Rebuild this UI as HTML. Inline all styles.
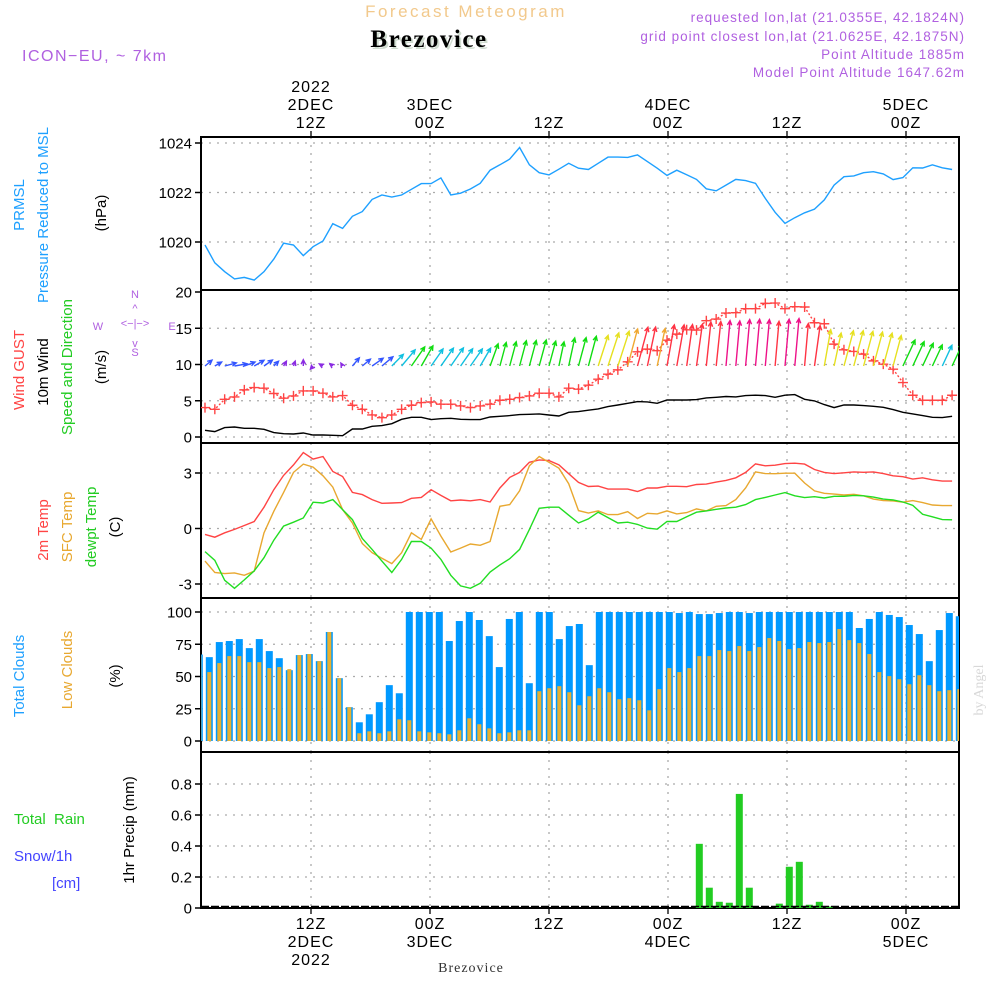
<!DOCTYPE html>
<html><head><meta charset="utf-8">
<style>
html,body{margin:0;padding:0;background:#fff;}
svg{display:block;font-family:"Liberation Sans",sans-serif;}
</style></head>
<body>
<svg id="chart" width="1000" height="1000" viewBox="0 0 1000 1000" xmlns="http://www.w3.org/2000/svg">
<defs><clipPath id="plotclip"><rect x="201" y="137" width="758" height="771"/></clipPath></defs>
<!-- headers -->
<text x="466" y="17" text-anchor="middle" font-size="17" fill="#f2c98c" letter-spacing="2.5">Forecast Meteogram</text>
<text x="431" y="49" text-anchor="middle" font-size="25" font-weight="bold" font-family="Liberation Serif, serif" fill="#d0dcd0" letter-spacing="1.5">Brezovice</text>
<text x="429" y="47" text-anchor="middle" font-size="25" font-weight="bold" font-family="Liberation Serif, serif" fill="#000" letter-spacing="1.5">Brezovice</text>
<text x="22" y="61" font-size="16" fill="#b060e0" letter-spacing="1.5">ICON−EU, ~ 7km</text>
<g font-size="13.5" fill="#b060e0" text-anchor="end" letter-spacing="1">
<text x="965" y="22">requested lon,lat (21.0355E, 42.1824N)</text>
<text x="965" y="41">grid point closest lon,lat (21.0625E, 42.1875N)</text>
<text x="965" y="59">Point Altitude 1885m</text>
<text x="965" y="77">Model Point Altitude 1647.62m</text>
</g>
<!-- left labels -->
<g font-size="15">
<text transform="translate(24,205) rotate(-90)" text-anchor="middle" fill="#1ea0ff">PRMSL</text>
<text transform="translate(48,215) rotate(-90)" text-anchor="middle" fill="#1ea0ff">Pressure Reduced to MSL</text>
<text transform="translate(106,213) rotate(-90)" text-anchor="middle" fill="#000">(hPa)</text>
<text transform="translate(24,370) rotate(-90)" text-anchor="middle" fill="#ff4444">Wind GUST</text>
<text transform="translate(48,372) rotate(-90)" text-anchor="middle" fill="#000">10m Wind</text>
<text transform="translate(72,367) rotate(-90)" text-anchor="middle" fill="#22cc22">Speed and Direction</text>
<text transform="translate(106,367) rotate(-90)" text-anchor="middle" fill="#000">(m/s)</text>
<text transform="translate(48,530) rotate(-90)" text-anchor="middle" fill="#ff4444">2m Temp</text>
<text transform="translate(72,527) rotate(-90)" text-anchor="middle" fill="#e8a830">SFC Temp</text>
<text transform="translate(96,527) rotate(-90)" text-anchor="middle" fill="#22cc22">dewpt Temp</text>
<text transform="translate(120,527) rotate(-90)" text-anchor="middle" fill="#000">(C)</text>
<text transform="translate(24,676) rotate(-90)" text-anchor="middle" fill="#1ea0ff">Total Clouds</text>
<text transform="translate(72,670) rotate(-90)" text-anchor="middle" fill="#e8a830">Low Clouds</text>
<text transform="translate(120,676) rotate(-90)" text-anchor="middle" fill="#000">(%)</text>
<text x="14" y="824" fill="#22cc22" xml:space="preserve">Total  Rain</text>
<text x="14" y="861" fill="#4444ff">Snow/1h</text>
<text x="52" y="888" fill="#4444ff">[cm]</text>
<text transform="translate(134,830) rotate(-90)" text-anchor="middle" fill="#000">1hr Precip (mm)</text>
</g>
<!-- compass -->
<g fill="#b060e0" font-size="11" text-anchor="middle">
<text x="135" y="298">N</text><text x="135" y="356">S</text><text x="98" y="330">W</text><text x="172" y="330">E</text>
<text x="135" y="327">&lt;−|−&gt;</text>
<text x="135" y="312">^</text><text x="135" y="347">v</text>
</g>
<text transform="translate(983,690) rotate(-90)" text-anchor="middle" font-size="14" font-family="Liberation Serif, serif" fill="#d8d8d8">by Angel</text>
<text x="471" y="972" text-anchor="middle" font-size="14" font-family="Liberation Serif, serif" fill="#333" letter-spacing="1">Brezovice</text>
<g id="layer"></g>
</svg>
<script>
const timeTicks = [311, 430, 549, 668, 787, 906];
const topTickLabels = [["2022","2DEC","12Z"],["3DEC","00Z"],["12Z"],["4DEC","00Z"],["12Z"],["5DEC","00Z"]];
const botTickLabels = [["12Z","2DEC","2022"],["00Z","3DEC"],["12Z"],["00Z","4DEC"],["12Z"],["00Z","5DEC"]];
const pressure = [1019.88,1019.16,1018.8,1018.51,1018.57,1018.46,1018.8,1019.31,1019.95,1019.88,1019.45,1019.81,1020.04,1020.74,1020.55,1021.04,1021.23,1021.72,1021.9,1021.82,1021.9,1022.13,1022.36,1022.36,1022.59,1021.9,1021.97,1022.14,1022.37,1022.9,1023.12,1023.35,1023.82,1023.12,1022.8,1022.71,1022.94,1023.18,1022.98,1022.93,1023.18,1023.43,1023.43,1023.42,1023.52,1023.25,1022.98,1022.69,1022.9,1022.72,1022.53,1022.15,1022.07,1022.3,1022.53,1022.48,1022.37,1021.76,1021.2,1020.75,1020.98,1021.18,1021.33,1021.7,1022.3,1022.64,1022.67,1022.8,1022.84,1022.75,1022.52,1022.6,1023.0,1022.99,1023.12,1023.0,1022.93];
const wind10 = [.92,.74,1.29,1.38,1.2,1.2,1.06,.6,.46,.41,.55,.28,.28,.23,.18,1.1,1.1,1.47,1.57,1.84,2.44,2.72,2.72,2.4,2.53,2.58,2.44,2.4,2.4,2.76,2.86,2.95,3.09,3.13,3.18,3.04,2.9,3.41,3.5,3.69,3.87,4.2,4.42,4.65,4.88,4.84,4.65,5.1,5.1,5.1,5.16,5.4,5.48,5.58,5.53,5.71,5.76,5.71,5.48,5.76,5.85,5.2,4.98,4.47,4.06,4.42,4.42,4.33,4.24,4.1,3.78,3.41,3.18,2.95,2.72,2.67,2.86];
const gust = [4.06,3.82,5.2,5.53,6.5,6.82,6.73,6.0,5.35,5.67,6.36,6.36,6.04,5.53,5.71,4.38,3.82,3.04,2.67,3.04,3.82,4.38,4.75,4.84,4.52,4.52,4.29,4.06,4.29,4.52,5.07,5.2,5.44,5.67,6.04,6.04,5.53,6.73,6.6,7.14,7.97,8.66,9.26,10.37,11.75,12.12,11.9,13.36,14.19,14.79,14.75,16.04,16.27,17.1,17.14,17.7,17.7,18.43,18.48,17.7,17.97,17.93,15.76,15.62,12.81,12.03,11.8,11.43,10.5,10.05,9.35,7.51,5.76,5.07,5.07,5.07,5.76];
const windDir = [50,60,75,80,70,60,55,45,30,20,0,220,300,310,330,40,50,55,50,45,40,35,30,35,35,35,35,35,30,20,15,15,15,15,15,15,12,12,15,15,18,18,18,15,15,12,12,10,10,8,8,6,6,5,5,5,5,5,5,5,5,5,8,10,12,15,15,15,15,15,15,25,25,25,25,25,25];
const temp2m = [-.32,-.47,-.23,-.05,.16,.38,1.15,2.1,2.87,3.44,4.1,3.75,3.89,3.08,2.81,1.95,1.83,1.56,1.36,1.38,1.4,1.63,1.68,2.1,1.79,1.5,1.54,1.5,1.56,1.43,2.19,2.76,3.03,3.58,3.71,3.67,3.44,2.96,2.49,2.27,2.29,2.13,2.13,2.13,2.0,2.19,2.19,2.28,2.28,2.26,2.38,2.4,2.51,2.6,2.74,3.03,3.49,3.39,3.42,3.51,3.53,3.48,3.19,3.03,2.97,3.01,3.06,3.04,3.06,2.97,2.85,2.8,2.67,2.74,2.63,2.56,2.56];
const tempSfc = [-1.76,-2.38,-2.44,-2.4,-2.53,-2.31,-.23,.93,1.95,3.03,3.48,3.32,2.85,2.24,1.02,.3,-.81,-1.31,-1.61,-1.9,-1.31,-.23,-.59,.52,-.41,-1.27,-1.06,-.84,-.91,-.7,1.2,1.29,2.04,3.39,3.89,3.58,3.26,2.42,.97,.84,.95,.75,.75,.91,.54,.82,.79,.95,.79,.86,1.06,.95,1.2,1.24,1.56,2.19,3.06,2.97,2.96,2.99,2.99,2.46,2.03,1.9,1.86,1.81,1.85,1.77,1.59,1.51,1.49,1.42,1.51,1.4,1.27,1.24,1.24];
const dewpt = [-1.25,-1.72,-2.8,-3.23,-2.78,-2.29,-1.58,-.63,.13,.34,.57,1.42,1.38,1.56,1.02,.48,-.54,-1.13,-1.76,-2.38,-1.67,-.7,-.7,-1.06,-1.67,-2.53,-3.1,-3.23,-2.96,-2.35,-1.97,-1.63,-1.13,-.05,1.09,1.15,1.15,.72,.3,.52,.88,.59,.3,.34,.22,.02,-.04,.38,.38,.63,.88,.95,1.04,1.11,1.15,1.29,1.56,1.68,1.81,1.94,1.77,1.67,1.72,1.65,1.74,1.74,1.79,1.77,1.7,1.59,1.54,1.43,1.25,.77,.63,.48,.47];
const totalClouds = [67,65,76.7,77.5,79,72,79,69.7,64.2,54.9,66.6,67.4,61.9,84.5,48.7,26.2,14.5,20.7,30.1,43.3,37,100,100,100,100,77.5,93,100,93.8,81.3,57.3,94.6,100,44.8,100,100,79,89.1,90.7,58.8,100,100,100,100,100,100,100,100,99.2,100,98.4,98.4,99.2,100,100,99.2,100,100,100,100,100,100,100,100,100,100,87.6,94.6,100,97.7,96.1,89.9,82.9,61.9,86,99.2,96.7];
const lowClouds = [66.6,53.4,60.4,65.8,65.8,61.1,61.1,56.5,57.3,55.7,66.6,67.4,61.9,84.5,48.7,26.2,6,7.5,6,7.5,16.8,16.1,7.5,6.7,6,5.2,8.3,17.6,13,9.8,6,6.7,8.3,8.3,38.6,40.9,42.5,37.8,27.7,34.7,40.9,37.8,32.4,33.2,31.6,23.8,40.2,56.5,53.4,56.5,65.8,65.8,70.5,69.7,73.6,69.7,72.8,79.8,77.5,71.2,72,76.7,75.9,76.7,86.8,78.2,75.9,67.4,53.4,50.3,47.9,44,51,43.3,38.6,39.4,40.2];
const precip = [0,0,0,0,0,0,0,0,0,0,0,0,0,0,0,0,0,0,0,0,0,0,0,0,0,0,0,0,0,0,0,0,0,0,0,0,0,0,0,0,0,0,0,0,0,0,0,0,0,0,0.414,0.131,0.04,0.034,0.736,0.131,0,0,0.028,0.266,0.298,0.021,0.04,0.009,0,0,0,0,0,0,0,0,0,0,0,0,0];
const pTicks = [1020,1022,1024];
const wTicks = [0,5,10,15,20];
const tTicks = [-3,0,3];
const cTicks = [0,25,50,75,100];
const rTicks = [0,0.2,0.4,0.6,0.8];

const NS = "http://www.w3.org/2000/svg";
const layer = document.getElementById('layer');
function el(tag, attrs, parent) {
  const e = document.createElementNS(NS, tag);
  for (const k in attrs) e.setAttribute(k, attrs[k]);
  (parent || layer).appendChild(e);
  return e;
}
const X0 = 201, X1 = 959;
function xLine(i) { return 205 + i * 9.83; }
function xBar(k) { return 199.3 + k * 10; }
function lin(d0, d1, r0, r1) { return v => r0 + (v - d0) * (r1 - r0) / (d1 - d0); }
const yP = lin(1020, 1024, 242, 143);
const yW = lin(0, 20, 437, 292);
const yT = lin(-3, 3, 584, 473);
const yC = lin(0, 100, 741, 612);
const yR = lin(0, 0.8, 908, 784);
const panels = [
  {name:'pressure', top:137, bot:290, ticks:pTicks, y:yP, fmt:v=>String(v)},
  {name:'wind', top:290, bot:443, ticks:wTicks, y:yW, fmt:v=>String(v)},
  {name:'temperature', top:443, bot:598, ticks:tTicks, y:yT, fmt:v=>String(v)},
  {name:'clouds', top:598, bot:752, ticks:cTicks, y:yC, fmt:v=>String(v)},
  {name:'precip', top:752, bot:908, ticks:rTicks, y:yR, fmt:v=>v===0?'0':v.toFixed(1)}
];
panels.forEach(p => {
  const g = el('g', {});
  
  
  timeTicks.forEach(x => {
    const l = el('line', {x1:x, x2:x, y1:p.top, y2:p.bot, stroke:'#aaa', 'stroke-width':1.3, 'stroke-dasharray':'2,6'}, g);
    
    
  });
  p.ticks.forEach(v => {
    const y = p.y(v);
    if (y > p.top + 2 && y < p.bot - 2) {
      const l = el('line', {x1:X0, x2:X1, y1:y, y2:y, stroke:'#aaa', 'stroke-width':1.3, 'stroke-dasharray':'2,6'}, g);
      
      
    }
    const t = el('line', {x1:X0 - 6, x2:X0, y1:y, y2:y, stroke:'#000', 'stroke-width':1.5}, g);
    
    
    const tx = el('text', {x:X0 - 9, y:y + 5.5, 'text-anchor':'end', 'font-size':15, fill:'#000'}, g);
    tx.textContent = p.fmt(v);
    
    
  });
});
panels.forEach(p => {
  const r = el('rect', {x:X0, y:p.top, width:X1 - X0, height:p.bot - p.top, fill:'none', stroke:'#000', 'stroke-width':2});
  
  
});
timeTicks.forEach((x, j) => {
  el('line', {x1:x, x2:x, y1:131, y2:137, stroke:'#000', 'stroke-width':1.3});
  el('line', {x1:x, x2:x, y1:908, y2:914, stroke:'#000', 'stroke-width':1.3});
  const top = topTickLabels[j];
  top.forEach((s, m) => {
    const t = el('text', {x:x, y:128 - (top.length - 1 - m) * 18, 'text-anchor':'middle', 'font-size':16, fill:'#000', 'letter-spacing':1});
    t.textContent = s;
    
    
  });
  botTickLabels[j].forEach((s, m) => {
    const t = el('text', {x:x, y:929 + m * 18, 'text-anchor':'middle', 'font-size':16, fill:'#000', 'letter-spacing':1});
    t.textContent = s;
    
    
  });
});
const clip = el('g', {'clip-path':'url(#plotclip)'});


function polyline(arr, yf, color, name, dash) {
  const pts = arr.map((v, i) => xLine(i).toFixed(1) + ',' + yf(v).toFixed(1)).join(' ');
  const a = {points:pts, fill:'none', stroke:color, 'stroke-width':1.4};
  if (dash) a['stroke-dasharray'] = dash;
  const p = el('polyline', a, clip);
  
  
  return p;
}
polyline(pressure, yP, '#1ea0ff', 'pressure-line');
polyline(wind10, yW, '#000', 'wind10m-line');
polyline(gust, yW, '#ff4444', 'gust-line', '2,2');
gust.forEach((v, i) => {
  const x = xLine(i), y = yW(v);
  const m = el('path', {d:`M${x-5},${y}H${x+5}M${x},${y-5}V${y+5}`, stroke:'#ff4444', 'stroke-width':1.4}, clip);
  
  
});
function windColor(s) {
  if (s < 0.6) return '#8a2be2';
  if (s < 1.8) return '#3355ff';
  if (s < 2.7) return '#10c0e0';
  if (s < 3.75) return '#10dd10';
  if (s < 4.5) return '#e6e020';
  if (s < 4.8) return '#f0a830';
  if (s < 5.5) return '#ff3344';
  return '#ee1188';
}
wind10.forEach((s, i) => {
  const len = 7.8 * s + 2;
  const a = windDir[i] * Math.PI / 180;
  const x0 = xLine(i), y0 = 366;
  const x1 = x0 + len * Math.sin(a), y1 = y0 - len * Math.cos(a);
  const h = 5, hw = 0.45;
  const hx1 = x1 - h * Math.sin(a - hw), hy1 = y1 + h * Math.cos(a - hw);
  const hx2 = x1 - h * Math.sin(a + hw), hy2 = y1 + h * Math.cos(a + hw);
  const ar = el('path', {d:`M${x0.toFixed(1)},${y0}L${x1.toFixed(1)},${y1.toFixed(1)}M${hx1.toFixed(1)},${hy1.toFixed(1)}L${x1.toFixed(1)},${y1.toFixed(1)}L${hx2.toFixed(1)},${hy2.toFixed(1)}`, fill:'none', stroke:windColor(s), 'stroke-width':1.4}, clip);
  
  
});
polyline(temp2m, yT, '#ff4444', 'temp2m-line');
polyline(tempSfc, yT, '#e8a830', 'sfc-temp-line');
polyline(dewpt, yT, '#22dd22', 'dewpt-line');
totalClouds.forEach((v, k) => {
  const x = xBar(k), y = yC(v);
  const b = el('rect', {x:x - 3.5, y:y, width:7, height:yC(0) - y, fill:'#0099ff'}, clip);
  
  
});
lowClouds.forEach((v, k) => {
  const x = xBar(k), y = yC(v);
  const b = el('rect', {x:x - 2, y:y, width:4, height:yC(0) - y, fill:'#e8b030'}, clip);
  
  
});
precip.forEach((v, k) => {
  if (v <= 0) return;
  const x = xBar(k), y = yR(v);
  const b = el('rect', {x:x - 3.5, y:y, width:7, height:yR(0) - y, fill:'#22cc22'}, clip);
  
  
});
const base = el('line', {x1:X0, x2:X1, y1:906.5, y2:906.5, stroke:'#000', 'stroke-width':1.5, 'stroke-dasharray':'8,2'});


</script>
</body></html>
